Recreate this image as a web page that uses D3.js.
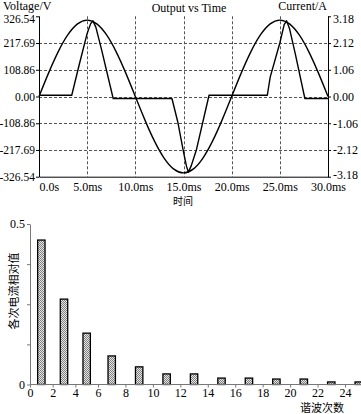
<!DOCTYPE html>
<html>
<head>
<meta charset="utf-8">
<script src="https://cdn.jsdelivr.net/npm/d3@7"></script>
<style>
body { margin: 0; background: #fff; }
svg text { font-family: "Liberation Serif", "DejaVu Serif", serif; font-size: 12px; fill: #000; }
svg text.cjk { font-family: "Noto Sans CJK SC", sans-serif; }
</style>
</head>
<body>
<div id="chart"></div>
<script>
// --- dados ---
const timeMs = [0, 1, 2, 3, 4, 5, 6, 7, 8, 9, 10, 11, 12, 13, 14, 15, 16, 17, 18, 19, 20, 21, 22, 23, 24, 25, 26, 27, 28, 29, 30];
const voltage = [0, 96.1, 182.8, 251.6, 295.8, 311, 295.8, 251.6, 182.8, 96.1, 0, -96.1, -182.8, -251.6, -295.8, -311, -295.8, -251.6, -182.8, -96.1, 0, 96.1, 182.8, 251.6, 295.8, 311, 295.8, 251.6, 182.8, 96.1, 0];

const currentTime = [0, 3.4, 4.2, 5.0, 5.35, 5.6, 5.9, 6.5, 7.7, 13.8, 14.4, 15.0, 15.3, 15.5, 15.8, 16.35, 17.65, 23.7, 24.0, 25.0, 25.45, 25.7, 26.0, 26.6, 27.6, 30];
const currentAmp  = [0.05, 0.05, 1.3, 2.5, 2.88, 3.0, 2.75, 1.85, -0.08, -0.08, -1.0, -2.2, -2.75, -3.0, -2.75, -2.1, 0.05, 0.05, 0.77, 2.12, 2.85, 3.0, 2.7, 1.7, -0.08, -0.08];

const voltTicks = [-326.54, -217.69, -108.86, 0, 108.86, 217.69, 326.54];
const ampTicks = [-3.18, -2.12, -1.06, 0, 1.06, 2.12, 3.18];
const timeTicks = [0, 5, 10, 15, 20, 25, 30];
const timeLabels = ["0.0s", "5.0ms", "10.0ms", "15.0ms", "20.0ms", "25.0ms", "30.0ms"];

const harmonicOrder = [1, 3, 5, 7, 9, 11, 13, 15, 17, 19, 21, 23, 25];
const harmonicValue = [0.45, 0.266, 0.16, 0.089, 0.055, 0.033, 0.033, 0.02, 0.02, 0.017, 0.017, 0.008, 0.008];
const orderTicks = [0, 2, 4, 6, 8, 10, 12, 14, 16, 18, 20, 22, 24];
const ratioTicks = [0, 0.125, 0.25, 0.375, 0.5];
const ratioLabels = {0: "0", 0.5: "0.5"};

const W = 361, H = 414;
const svg = d3.select("#chart").append("svg")
    .attr("width", W).attr("height", H)
    .attr("viewBox", [0, 0, W, H]);

// ===== grafico de cima: tensao e corrente =====
const box = {left: 39, right: 328, top: 16.3, bottom: 176.7};

const x = d3.scaleLinear().domain([0, 30]).range([box.left, box.right]);
const yV = d3.scaleLinear().domain([-326.54, 326.54]).range([box.bottom, box.top]);
const yA = d3.scaleLinear().domain([-3.18, 3.18]).range([box.bottom, box.top]);

const grid = svg.append("g").attr("stroke", "#555").attr("stroke-width", 1).attr("stroke-dasharray", "3,2");
grid.selectAll("line.h")
    .data(voltTicks.filter(d => Math.abs(d) < 326))
    .join("line")
    .attr("x1", box.left).attr("x2", box.right)
    .attr("y1", d => Math.round(yV(d)) + 0.5).attr("y2", d => Math.round(yV(d)) + 0.5);
grid.selectAll("line.v")
    .data(timeTicks.filter(d => d > 0 && d < 30))
    .join("line")
    .attr("y1", box.top).attr("y2", box.bottom)
    .attr("x1", d => Math.round(x(d)) + 0.5).attr("x2", d => Math.round(x(d)) + 0.5);

// moldura (sem linha no topo)
svg.append("path")
    .attr("d", `M${box.left + 0.5},${box.top}V${box.bottom + 0.5}H${box.right + 0.5}V${box.top}`)
    .attr("fill", "none").attr("stroke", "#000").attr("stroke-width", 1);

// eixos
const fmt2 = d => d.toFixed(2);
const axL = svg.append("g").attr("transform", `translate(${box.left},0)`)
    .call(d3.axisLeft(yV).tickValues(voltTicks).tickSize(3).tickPadding(1).tickFormat(fmt2));
const axR = svg.append("g").attr("transform", `translate(${box.right},0)`)
    .call(d3.axisRight(yA).tickValues(ampTicks).tickSize(3).tickPadding(2).tickFormat(fmt2));
const axB = svg.append("g").attr("transform", `translate(0,${box.bottom})`)
    .call(d3.axisBottom(x).tickValues(timeTicks).tickSize(0).tickPadding(6).tickFormat((d, i) => timeLabels[i]));
[axL, axR, axB].forEach(a => {
    a.select(".domain").remove();
    a.selectAll("text").attr("font-size", null).attr("font-family", null);
});
axL.selectAll("text").style("font-size", "11.5px");
// rotulos das pontas empurrados para dentro, como na figura
axL.selectAll(".tick").filter(d => d > 326).select("text").attr("dy", "0.55em");
axR.selectAll(".tick").filter(d => d > 3.1).select("text").attr("dy", "0.55em");
axR.selectAll(".tick").filter(d => d < -3.1).select("text").attr("dy", "0.15em");
axB.select(".tick text").attr("text-anchor", "start");

// curvas
svg.append("path")
    .datum(timeMs)
    .attr("fill", "none").attr("stroke", "#000").attr("stroke-width", 1.4)
    .attr("d", d3.line().x(d => x(d)).y((d, i) => yV(voltage[i])).curve(d3.curveNatural));
svg.append("path")
    .datum(currentTime)
    .attr("fill", "none").attr("stroke", "#000").attr("stroke-width", 1.4)
    .attr("stroke-linejoin", "round")
    .attr("d", d3.line().x(d => x(d)).y((d, i) => yA(currentAmp[i])));

// textos
svg.append("text").attr("x", 3).attr("y", 10).text("Voltage/V");
svg.append("text").attr("x", 327).attr("y", 10).attr("text-anchor", "end").text("Current/A");
svg.append("text").attr("x", 189).attr("y", 12).attr("text-anchor", "middle").text("Output vs Time");
svg.append("text").attr("class", "cjk").attr("x", 183).attr("y", 205)
    .attr("text-anchor", "middle").style("font-size", "10px").text("时间");

// ===== grafico de baixo: harmonicos =====
const bot = {left: 30, right: 361, top: 224, bottom: 384.5};

// escala do eixo da figura nao e uniforme: trecho 0-6 mais apertado
const xh = d3.scaleLinear().domain([0, 6, 24]).range([30, 98, 345]);
const yh = d3.scaleLinear().domain([0, 0.5]).range([bot.bottom, bot.top]);

const defs = svg.append("defs");
const pat = defs.append("pattern").attr("id", "dots")
    .attr("patternUnits", "userSpaceOnUse").attr("width", 2).attr("height", 2);
pat.append("rect").attr("width", 2).attr("height", 2).attr("fill", "#e6e6e6");
pat.append("rect").attr("width", 1).attr("height", 1).attr("fill", "#808080");
pat.append("rect").attr("x", 1).attr("y", 1).attr("width", 1).attr("height", 1).attr("fill", "#808080");

const barW = 7.4;
svg.append("g").selectAll("rect")
    .data(harmonicOrder)
    .join("rect")
    .attr("x", d => xh(d) - barW / 2)
    .attr("y", (d, i) => yh(harmonicValue[i]))
    .attr("width", barW)
    .attr("height", (d, i) => yh(0) - yh(harmonicValue[i]))
    .attr("fill", "url(#dots)")
    .attr("stroke", "#000").attr("stroke-width", 1.3);

const hAxB = svg.append("g").attr("transform", `translate(0,${bot.bottom})`)
    .call(d3.axisBottom(xh).tickValues(orderTicks).tickSize(3).tickPadding(1).tickSizeOuter(0));
const hAxL = svg.append("g").attr("transform", `translate(${bot.left},0)`)
    .call(d3.axisLeft(yh).tickValues(ratioTicks).tickSize(3).tickPadding(2).tickSizeOuter(0)
        .tickFormat(d => ratioLabels[d] || ""));
hAxB.select(".domain").attr("d", `M${bot.left},0H${bot.right}`);
[hAxB, hAxL].forEach(a => {
    a.select(".domain").attr("stroke", "#777");
    a.selectAll(".tick line").attr("stroke", "#777");
    a.selectAll("text").attr("font-size", null).attr("font-family", null);
});

svg.append("text").attr("class", "cjk")
    .attr("transform", "translate(17.5,291) rotate(-90)")
    .attr("text-anchor", "middle").style("font-size", "11px").text("各次电流相对值");
svg.append("text").attr("class", "cjk").attr("x", 322).attr("y", 412)
    .attr("text-anchor", "middle").style("font-size", "11px").text("谐波次数");
</script>
</body>
</html>
